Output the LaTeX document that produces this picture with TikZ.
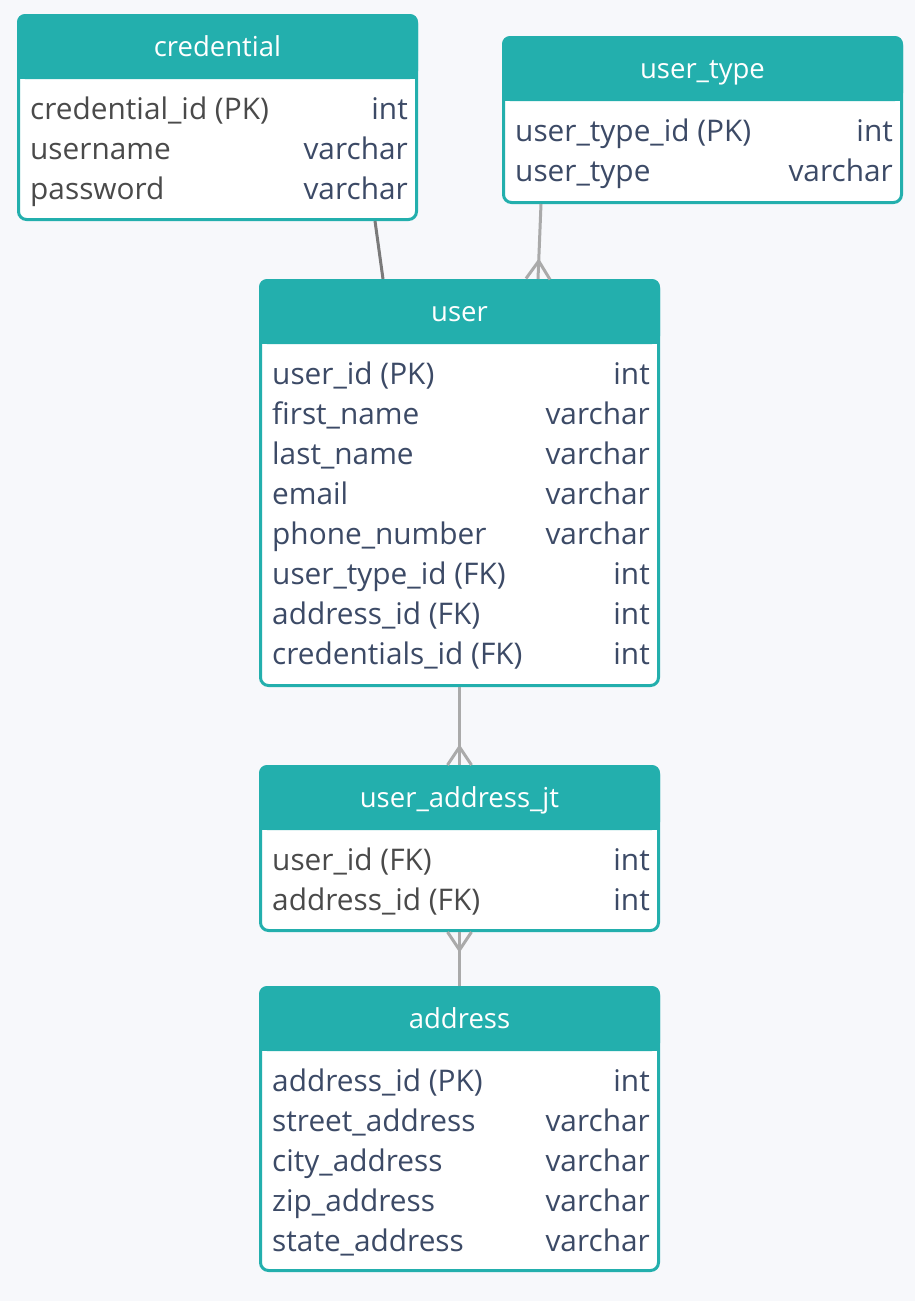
\documentclass[tikz,border=0pt]{standalone}
\usepackage{fontspec}
\setmainfont{Open Sans}
\usetikzlibrary{arrows.meta, positioning, decorations.markings}
\definecolor{hdrteal}{RGB}{35,175,173}
\definecolor{fieldgray}{RGB}{74,74,74}
\definecolor{typeblue}{RGB}{60,74,102}
\definecolor{pagebg}{RGB}{247,248,251}
\definecolor{linkdark}{RGB}{122,122,122}
\definecolor{linklight}{RGB}{170,170,170}
\tikzset{
  tbl/.style={draw=hdrteal, line width=3pt, rounded corners=8pt, fill=white,
    minimum width=398pt, anchor=north west, inner sep=0pt},
  hdrtext/.style={text=white, font=\fontsize{27.5}{32}\selectfont, inner sep=0pt, anchor=base},
  fieldtext/.style={text=typeblue, font=\fontsize{29.8}{35}\selectfont, anchor=west,
    inner sep=0pt, text height=22pt, text depth=7pt},
  typetext/.style={text=typeblue, font=\fontsize{29.8}{35}\selectfont, anchor=east,
    inner sep=0pt, text height=22pt, text depth=7pt},
  link/.style={line width=3pt},
  many end/.style={postaction={decorate}, decoration={markings,
    mark=at position 1 with {\draw[linklight, line width=3pt]
      (-18pt,0) -- (0,12pt) (-18pt,0) -- (0,-12pt);}}}
}
% header band and title of a table
\newcommand*{\tblhead}[2]{%
  \fill[hdrteal, rounded corners=8pt] (#1.north west) rectangle ([yshift=-65pt]#1.north east);
  \fill[hdrteal] ([yshift=-30pt]#1.north west) rectangle ([yshift=-65pt]#1.north east);
  \node[hdrtext] (#1-title) at ([yshift=-42pt]#1.north) {#2};
}
\begin{document}
\begin{tikzpicture}[x=1pt, y=-1pt]
  \fill[pagebg] (0,0) rectangle (915,1301);
  \useasboundingbox (0,0) rectangle (915,1301);

  \node[tbl, minimum height=204pt] (credential) at (17,14) {};
  \node[tbl, minimum height=165pt] (usertype) at (502,36) {};
  \node[tbl, minimum height=405pt] (user) at (259,279) {};
  \node[tbl, minimum height=164pt] (jt) at (259,765) {};
  \node[tbl, minimum height=283pt] (address) at (259,986) {};

  \tblhead{credential}{credential}
  \tblhead{usertype}{user\_type}
  \tblhead{user}{user}
  \tblhead{jt}{user\_address\_jt}
  \tblhead{address}{address}

  \foreach \f/\t [count=\i] in {credential\_id (PK)/int, username/varchar, password/varchar} {
    \node[fieldtext, text=fieldgray] (credential-f\i) at ([xshift=13pt, yshift={-97.5pt-(\i-1)*40pt}]credential.north west) {\f};
    \node[typetext] (credential-t\i) at ([xshift=-10pt, yshift={-97.5pt-(\i-1)*40pt}]credential.north east) {\t};
  }
  \foreach \f/\t [count=\i] in {user\_type\_id (PK)/int, user\_type/varchar} {
    \node[fieldtext] (usertype-f\i) at ([xshift=13pt, yshift={-97.5pt-(\i-1)*40pt}]usertype.north west) {\f};
    \node[typetext] (usertype-t\i) at ([xshift=-10pt, yshift={-97.5pt-(\i-1)*40pt}]usertype.north east) {\t};
  }
  \foreach \f/\t [count=\i] in {user\_id (PK)/int, first\_name/varchar, last\_name/varchar,
      email/varchar, phone\_number/varchar, user\_type\_id (FK)/int,
      address\_id (FK)/int, credentials\_id (FK)/int} {
    \node[fieldtext] (user-f\i) at ([xshift=13pt, yshift={-97.5pt-(\i-1)*40pt}]user.north west) {\f};
    \node[typetext] (user-t\i) at ([xshift=-10pt, yshift={-97.5pt-(\i-1)*40pt}]user.north east) {\t};
  }
  \foreach \f/\t [count=\i] in {user\_id (FK)/int, address\_id (FK)/int} {
    \node[fieldtext, text=fieldgray] (jt-f\i) at ([xshift=13pt, yshift={-97.5pt-(\i-1)*40pt}]jt.north west) {\f};
    \node[typetext] (jt-t\i) at ([xshift=-10pt, yshift={-97.5pt-(\i-1)*40pt}]jt.north east) {\t};
  }
  \foreach \f/\t [count=\i] in {address\_id (PK)/int, street\_address/varchar,
      city\_address/varchar, zip\_address/varchar, state\_address/varchar} {
    \node[fieldtext] (address-f\i) at ([xshift=13pt, yshift={-97.5pt-(\i-1)*40pt}]address.north west) {\f};
    \node[typetext] (address-t\i) at ([xshift=-10pt, yshift={-97.5pt-(\i-1)*40pt}]address.north east) {\t};
  }

  % relations
  \draw[link, linkdark] ([xshift=358pt]credential.south west) -- ([xshift=124pt]user.north west);
  \draw[link, linklight, many end] ([xshift=39pt]usertype.south west) -- ([xshift=279pt]user.north west);
  \draw[link, linklight, many end] (user.south) -- (jt.north);
  \draw[link, linklight, many end] (address.north) -- (jt.south);
\end{tikzpicture}
\end{document}
